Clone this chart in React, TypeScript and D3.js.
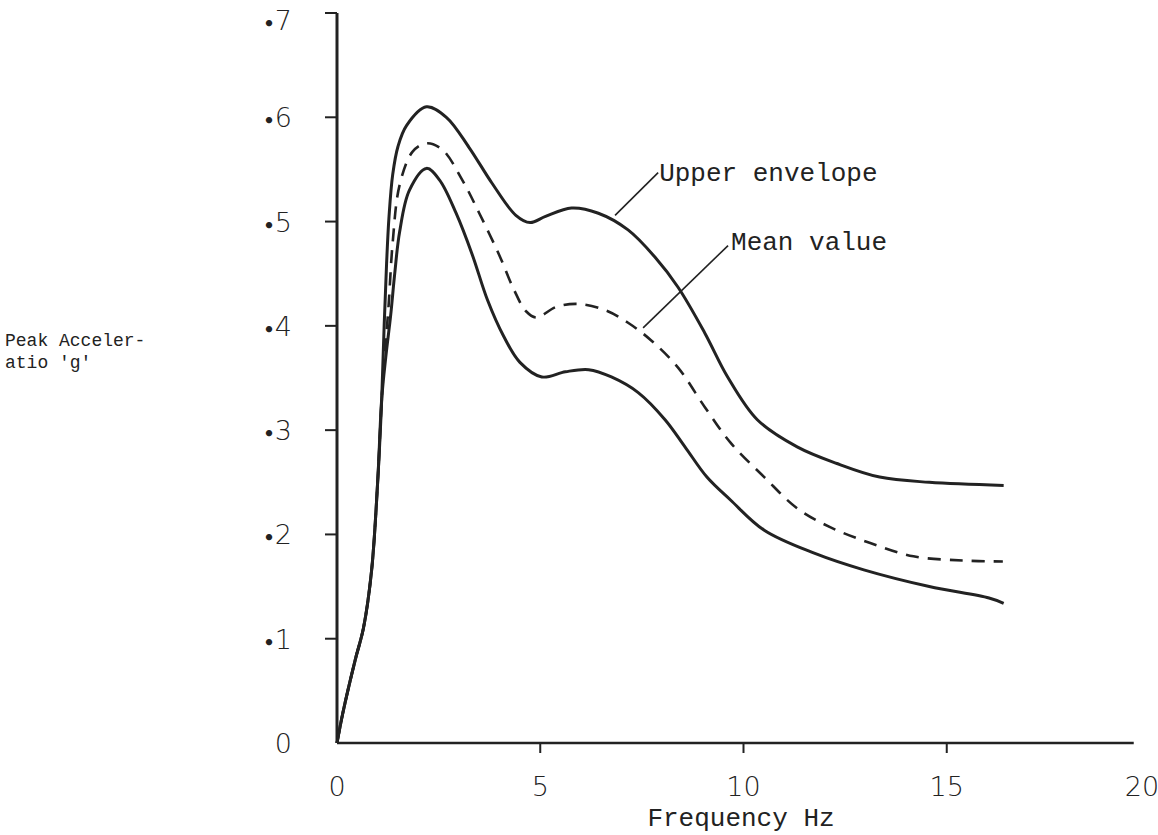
import React from "react";
import * as d3 from "d3";

// Frequency (Hz) and peak acceleration (g)
const upperFreq = [0, 0.15, 0.45, 0.65, 0.85, 1.0, 1.1, 1.16, 1.22, 1.28, 1.37, 1.5, 1.71, 2.2, 2.69, 3.25, 3.81, 4.4, 4.75, 5.13, 5.77, 6.43, 7.16, 7.82, 8.39, 9.05, 9.61, 10.34, 11.32, 12.3, 13.35, 14.57, 16.4];
const upperG = [0, 0.03, 0.08, 0.11, 0.165, 0.25, 0.33, 0.4, 0.46, 0.505, 0.545, 0.572, 0.592, 0.61, 0.6, 0.571, 0.537, 0.506, 0.499, 0.505, 0.513, 0.508, 0.492, 0.466, 0.437, 0.393, 0.351, 0.31, 0.284, 0.268, 0.255, 0.25, 0.247];

const meanFreq = [0, 0.15, 0.45, 0.65, 0.85, 1.0, 1.1, 1.17, 1.27, 1.37, 1.54, 1.86, 2.2, 2.59, 3.08, 3.5, 3.99, 4.35, 4.65, 4.91, 5.38, 5.94, 6.6, 7.16, 7.73, 8.39, 9.05, 9.68, 10.51, 11.32, 12.13, 13.1, 14.18, 15.4, 16.38];
const meanG = [0, 0.03, 0.08, 0.11, 0.165, 0.25, 0.33, 0.37, 0.42, 0.48, 0.535, 0.567, 0.575, 0.569, 0.54, 0.508, 0.468, 0.435, 0.414, 0.408, 0.418, 0.421, 0.415, 0.403, 0.386, 0.36, 0.322, 0.288, 0.255, 0.225, 0.207, 0.192, 0.179, 0.175, 0.174];

const lowerFreq = [0, 0.15, 0.45, 0.65, 0.85, 1.0, 1.1, 1.2, 1.32, 1.42, 1.54, 1.78, 2.2, 2.52, 2.93, 3.33, 3.7, 4.1, 4.5, 5.04, 5.62, 6.19, 6.75, 7.41, 8.07, 8.56, 9.1, 9.68, 10.51, 11.74, 12.96, 14.57, 16.04, 16.4];
const lowerG = [0, 0.03, 0.08, 0.11, 0.165, 0.25, 0.33, 0.37, 0.41, 0.45, 0.49, 0.53, 0.551, 0.54, 0.508, 0.468, 0.425, 0.39, 0.365, 0.351, 0.356, 0.358, 0.351, 0.336, 0.31, 0.284, 0.255, 0.233, 0.204, 0.182, 0.166, 0.15, 0.139, 0.134];

const xTicks = [0, 5, 10, 15, 20];
const xTickLabels = ["0", "5", "10", "15", "20"];
const yTicks = [0, 0.1, 0.2, 0.3, 0.4, 0.5, 0.6, 0.7];
const yTickLabels = ["0", "1", "2", "3", "4", "5", "6", "7"];

// annotation leader lines in data units: [fromFreq, fromG, toFreq, toG]
const upperLeader = [6.84, 0.506, 7.9, 0.547];
const meanLeader = [7.53, 0.398, 9.62, 0.477];

const W = 1158;
const H = 835;

export default function App() {
  const x = d3.scaleLinear().domain([0, 20]).range([337, 1150]);
  const y = d3.scaleLinear().domain([0, 0.7]).range([743, 13]);

  const line = d3
    .line<[number, number]>()
    .x((d) => x(d[0]))
    .y((d) => y(d[1]))
    .curve(d3.curveCatmullRom.alpha(0.5));

  const zip = (a: number[], b: number[]) => a.map((v, i) => [v, b[i]] as [number, number]);

  const ink = "#222";
  const mono = "'Liberation Mono', 'DejaVu Sans Mono', monospace";
  const hand = "'DejaVu Sans', sans-serif";

  return (
    <svg
      width={W}
      height={H}
      style={{ position: "absolute", left: 0, top: 0, background: "#fff" }}
    >
      <rect x={0} y={0} width={W} height={H} fill="#fff" />
      {/* axes */}
      <line x1={x(0)} y1={y(0)} x2={x(0)} y2={y(0.7)} stroke={ink} strokeWidth={3} />
      <line x1={x(0)} y1={y(0)} x2={x(19.6)} y2={y(0)} stroke={ink} strokeWidth={2.5} />
      {yTicks.slice(1).map((t) => (
        <line key={"yt" + t} x1={x(0) - 12} x2={x(0)} y1={y(t)} y2={y(t)} stroke={ink} strokeWidth={2} />
      ))}
      {xTicks.slice(1, 4).map((t) => (
        <line key={"xt" + t} x1={x(t)} x2={x(t)} y1={y(0)} y2={y(0) + 10} stroke={ink} strokeWidth={2} />
      ))}
      {/* y tick labels */}
      {yTicks.map((t, i) => (
        <text
          key={"yl" + t}
          x={292}
          y={Math.max(y(t) + 10, 30)}
          textAnchor="end"
          fontFamily={hand}
          fontWeight={200}
          fontSize={27}
          fill={ink}
        >
          {i > 0 ? (
            <tspan fontSize={18} fontWeight={700}>•</tspan>
          ) : null}
          <tspan>{yTickLabels[i]}</tspan>
        </text>
      ))}
      {/* x tick labels */}
      {xTicks.map((t, i) => (
        <text
          key={"xl" + t}
          x={x(t) - (i === 4 ? 8 : 0)}
          y={796}
          textAnchor="middle"
          fontFamily={hand}
          fontWeight={200}
          fontSize={27}
          fill={ink}
        >
          {xTickLabels[i]}
        </text>
      ))}
      {/* axis titles */}
      <text x={741} y={826} textAnchor="middle" fontFamily={mono} fontSize={26} fill={ink}>
        Frequency Hz
      </text>
      <text x={5} y={346} fontFamily={mono} fontSize={18} fill={ink}>
        Peak Acceler-
      </text>
      <text x={5} y={368} fontFamily={mono} fontSize={18} fill={ink}>
        atio 'g'
      </text>
      {/* curves */}
      <path d={line(zip(upperFreq, upperG)) || ""} fill="none" stroke={ink} strokeWidth={3} />
      <path d={line(zip(lowerFreq, lowerG)) || ""} fill="none" stroke={ink} strokeWidth={3} />
      <path
        d={line(zip(meanFreq, meanG)) || ""}
        fill="none"
        stroke={ink}
        strokeWidth={2.6}
        strokeDasharray="13 9"
      />
      {/* annotations */}
      <line
        x1={x(upperLeader[0])}
        y1={y(upperLeader[1])}
        x2={x(upperLeader[2])}
        y2={y(upperLeader[3])}
        stroke={ink}
        strokeWidth={1.6}
      />
      <text x={x(upperLeader[2]) + 1} y={y(upperLeader[3]) + 8} fontFamily={mono} fontSize={26} fill={ink}>
        Upper envelope
      </text>
      <line
        x1={x(meanLeader[0])}
        y1={y(meanLeader[1])}
        x2={x(meanLeader[2])}
        y2={y(meanLeader[3])}
        stroke={ink}
        strokeWidth={1.6}
      />
      <text x={x(meanLeader[2]) + 3} y={y(meanLeader[3]) + 4} fontFamily={mono} fontSize={26} fill={ink}>
        Mean value
      </text>
    </svg>
  );
}
